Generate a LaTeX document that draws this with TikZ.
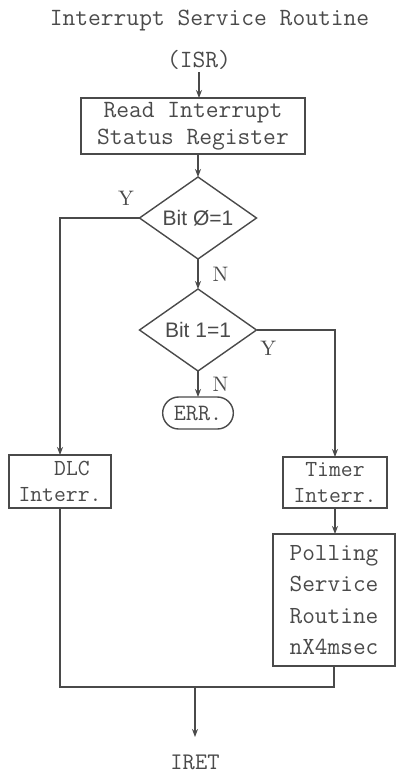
\documentclass[tikz,border=0pt]{standalone}
\usepackage{fontspec}
\usetikzlibrary{arrows.meta, positioning, shapes.geometric, shapes.misc}
\newfontfamily\labfont{Liberation Sans}
\definecolor{Ink}{HTML}{4A4A4A}
\tikzset{
  txt/.style={text=Ink, inner sep=1pt, font=\ttfamily\fontsize{12.4}{14}\selectfont},
  procbox/.style={draw=Ink, line width=0.7pt, align=center, inner sep=2pt, outer sep=0pt,
    text=Ink, font=\ttfamily\fontsize{12.4}{13.5}\selectfont},
  decbox/.style={draw=Ink, line width=0.7pt, diamond, aspect=1.43, inner sep=0pt, outer sep=0pt,
    minimum width=58.5pt, minimum height=41pt, text=Ink, font=\labfont\fontsize{10.5}{12}\selectfont},
  termbox/.style={draw=Ink, line width=0.7pt, rounded rectangle, outer sep=0pt,
    minimum width=42pt, minimum height=16pt, text=Ink, font=\ttfamily\fontsize{11.7}{13}\selectfont},
  yn/.style={text=Ink, inner sep=1pt, font=\fontsize{10.5}{12}\selectfont},
  flow/.style={-{Stealth[length=4pt, width=3pt]}, line width=0.7pt, draw=Ink},
  wire/.style={line width=0.7pt, draw=Ink},
}
\begin{document}
\begin{tikzpicture}[x=0.5pt, y=-0.5pt]
    \useasboundingbox (0,0) rectangle (397,772);
    \node[txt] (ttl) at (209.5,21) {Interrupt Service Routine};
    \node[txt] (isr) at (199,60) {(ISR)};
    \node[procbox, minimum width=112pt, minimum height=28pt] (rd) at (193,126) {Read Interrupt\\Status Register};
    \node[decbox] (d1) at (198,218) {Bit Ø=1};
    \node[decbox, below=15pt of d1] (d2) {Bit 1=1};
    \node[termbox, below=13pt of d2] (err) {ERR.};
    \node[procbox, minimum width=51pt, minimum height=26.5pt,
      font=\ttfamily\fontsize{11.5}{13}\selectfont] (dlc) at (60,481.5) {\hspace*{12pt}DLC\\Interr.};
    \node[procbox, minimum width=52pt, minimum height=25.5pt,
      font=\ttfamily\fontsize{11.5}{13}\selectfont] (tmr) at (335,482.5) {Timer\\Interr.};
    \node[procbox, below=13pt of tmr, xshift=-0.5pt, minimum width=61pt, minimum height=66pt,
      font=\ttfamily\fontsize{12.3}{15.6}\selectfont] (poll) {Polling\\Service\\Routine\\nX4msec};
    \node[txt, font=\ttfamily\fontsize{11.9}{13}\selectfont] (iret) at (195,762) {IRET};
    \coordinate (jn) at (195,687);

    \draw[flow] (isr.south) -- (isr.south |- rd.north);
    \draw[flow] (rd.south -| d1.north) -- (d1.north);
    \draw[flow] (d1.west) -- node[yn, pos=0.17, above=5pt]{Y} (dlc.north |- d1.west) -- (dlc.north);
    \draw[flow] (d1.south) -- node[yn, right=6pt]{N} (d2.north);
    \draw[flow] (d2.east) -- node[yn, pos=0.15, below=4pt]{Y} (d2.east -| tmr.north) -- (tmr.north);
    \draw[flow] (d2.south) -- node[yn, right=6pt]{N} (err.north);
    \draw[flow] (tmr.south) -- (tmr.south |- poll.north);
    \draw[wire] (dlc.south) -- (dlc.south |- jn) -- (jn -| poll.south) -- (poll.south);
    \draw[flow] (jn) -- (195,737);
  \end{tikzpicture}
\end{document}
